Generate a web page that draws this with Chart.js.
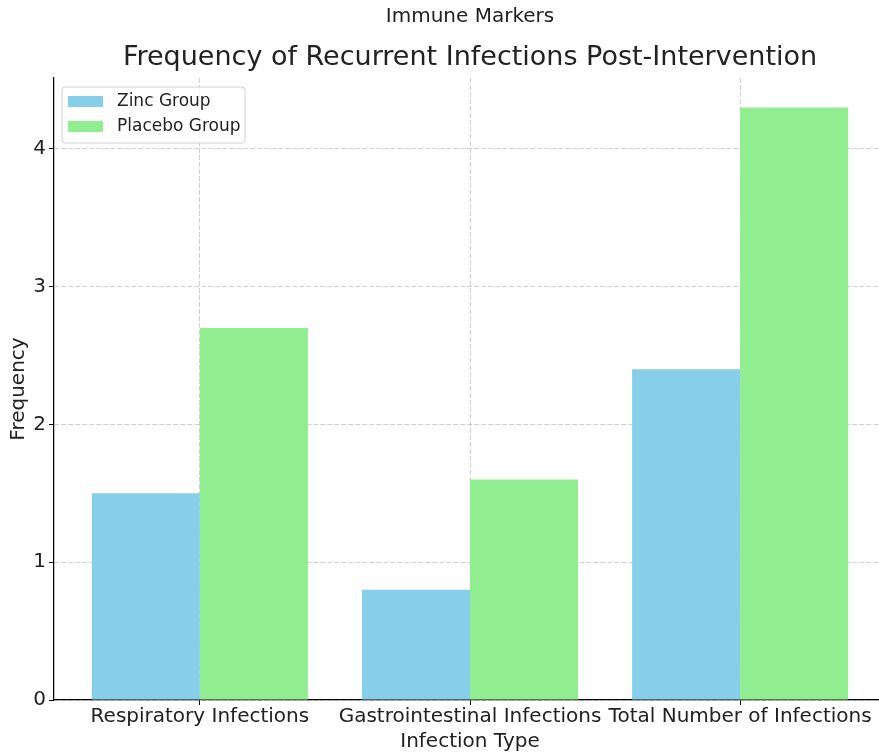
<!DOCTYPE html>
<html>
<head>
<meta charset="utf-8">
<script src="https://cdn.jsdelivr.net/npm/chart.js@4.4.0/dist/chart.umd.min.js"></script>
<style>
  html, body { margin: 0; padding: 0; background: #fff; overflow: hidden; width: 879px; height: 753px; }
  canvas { display: block; }
</style>
</head>
<body>
<canvas id="InfectionChart" width="900" height="753"></canvas>
<script>
(function () {
  "use strict";

  // Data
  const categories    = ['Respiratory Infections', 'Gastrointestinal Infections', 'Total Number of Infections'];
  const seriesNames   = ['Zinc Group', 'Placebo Group'];
  const zincValues    = [1.5, 0.8, 2.4];
  const placeboValues = [2.7, 1.6, 4.3];
  const yTicks        = [0, 1, 2, 3, 4];
  const xTicks        = [0, 1, 2];

  // Colors
  const zinc_color    = '#87ceeb';
  const placebo_color = '#90ee90';
  const text_color    = '#222222';
  const grid_color    = 'rgba(176,176,176,0.6)';
  const font_family   = '"DejaVu Sans", sans-serif';

  const toPoints = (vals) => vals.map((v, i) => ({ x: i, y: v }));

  // Titles + legend drawn inside the plot, matplotlib style
  const decorations = {
    id: 'decorations',
    afterDraw(chart) {
      const ctx = chart.ctx;
      const area = chart.chartArea;
      const cx = (area.left + area.right) / 2;
      ctx.save();
      ctx.fillStyle = text_color;
      ctx.textAlign = 'center';
      ctx.textBaseline = 'middle';
      ctx.font = '20px ' + font_family;
      ctx.fillText('Immune Markers', cx, 17);
      ctx.font = '27px ' + font_family;
      ctx.fillText('Frequency of Recurrent Infections Post-Intervention', cx, 58);

      // legend box
      const bx = area.left + 8, by = area.top + 9, bw = 183, bh = 56;
      ctx.beginPath();
      ctx.roundRect(bx, by, bw, bh, 3);
      ctx.fillStyle = 'rgba(255,255,255,0.8)';
      ctx.fill();
      ctx.strokeStyle = '#d0d0d0';
      ctx.lineWidth = 1;
      ctx.stroke();

      const colors = [zinc_color, placebo_color];
      ctx.font = '17px ' + font_family;
      ctx.textAlign = 'left';
      for (let i = 0; i < seriesNames.length; i++) {
        const y = by + 15 + i * 25;
        ctx.fillStyle = colors[i];
        ctx.fillRect(bx + 6, y - 6, 35, 11);
        ctx.fillStyle = text_color;
        ctx.fillText(seriesNames[i], bx + 55, y);
      }
      ctx.restore();
    }
  };

  const el = document.getElementById('InfectionChart');
  new Chart(el.getContext('2d'), {
    type: 'bar',
    data: {
      datasets: [{
        label: seriesNames[0],
        data: toPoints(zincValues),
        backgroundColor: zinc_color,
        borderWidth: 0
      }, {
        label: seriesNames[1],
        data: toPoints(placeboValues),
        backgroundColor: placebo_color,
        borderWidth: 0
      }]
    },
    options: {
      responsive: false,
      animation: false,
      devicePixelRatio: 1,
      categoryPercentage: 0.8,
      barPercentage: 1.0,
      layout: { padding: { left: 0, right: 14, top: 78, bottom: 0 } },
      plugins: {
        legend: { display: false },
        title: { display: false },
        tooltip: { enabled: false }
      },
      scales: {
        x: {
          type: 'linear',
          min: -0.54,
          max: 2.54,
          offset: false,
          z: 1,
          afterBuildTicks: (scale) => { scale.ticks = xTicks.map(v => ({ value: v })); },
          afterFit: (scale) => { scale.height = 53; },
          border: { display: true, color: '#000', width: 1.25, dash: [5, 2] },
          grid: {
            offset: false,
            color: grid_color,
            lineWidth: 1,
            tickLength: 5,
            tickColor: '#000',
            tickWidth: 1,
            tickBorderDash: []
          },
          ticks: {
            color: text_color,
            font: { family: font_family, size: 20, lineHeight: 1 },
            padding: 2,
            maxRotation: 0,
            autoSkip: false,
            callback: (v) => categories[v]
          },
          title: {
            display: true,
            text: 'Infection Type',
            color: text_color,
            font: { family: font_family, size: 20 },
            padding: { top: 0, bottom: -1 }
          }
        },
        y: {
          min: 0,
          max: 4.515,
          z: 1,
          afterBuildTicks: (scale) => { scale.ticks = yTicks.map(v => ({ value: v })); },
          afterFit: (scale) => { scale.width = 54; },
          border: { display: true, color: '#000', width: 1.25, dash: [5, 2] },
          grid: {
            color: grid_color,
            lineWidth: 1,
            tickLength: 5,
            tickColor: '#000',
            tickWidth: 1,
            tickBorderDash: []
          },
          ticks: {
            color: text_color,
            font: { family: font_family, size: 20 },
            padding: 3
          },
          title: {
            display: true,
            text: 'Frequency',
            color: text_color,
            font: { family: font_family, size: 20 },
            padding: { top: 7, bottom: 0 }
          }
        }
      }
    },
    plugins: [decorations]
  });
})();
</script>
</body>
</html>
